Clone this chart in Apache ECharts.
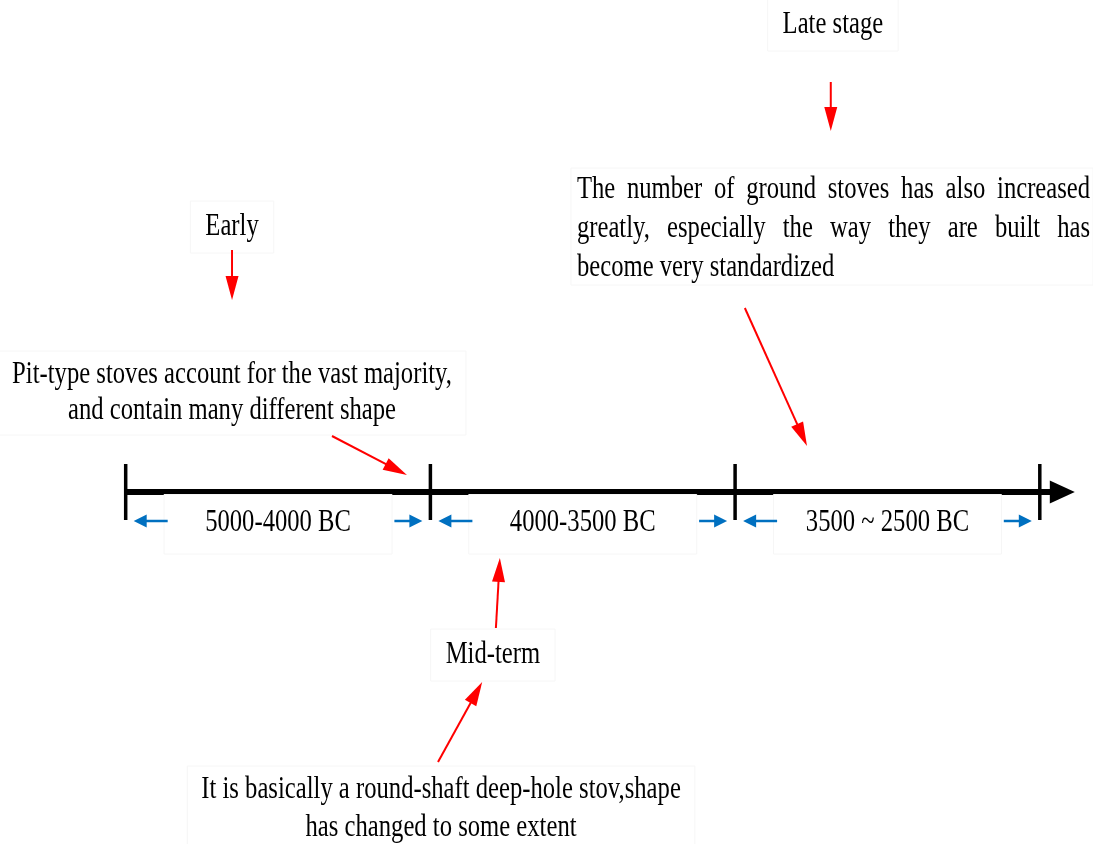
<!DOCTYPE html>
<html><head><meta charset="utf-8">
<script src="https://cdn.jsdelivr.net/npm/echarts@6/dist/echarts.min.js"></script>
<style>html,body{margin:0;padding:0;background:#fff}#c{width:1093px;height:844px}</style>
</head><body><div id="c"></div>
<script>
// ---------------- data ----------------
const boundaries = ['5000 BC', '4000 BC', '3500 BC', '2500 BC'];
const periods = ['5000-4000 BC', '4000-3500 BC', '3500 ~ 2500 BC'];
const stages = ['Early', 'Mid-term', 'Late stage'];
const descEarly = ['Pit-type stoves account for the vast majority,', 'and contain many different shape'];
const descMid = ['It is basically a round-shaft deep-hole stov,shape', 'has changed to some extent'];
const descLate = ['The number of ground stoves has also increased', 'greatly, especially the way they are built has', 'become very standardized'];
const descriptions = [descEarly, descMid, descLate];

// ---------------- styling / layout ----------------
const FONT_SIZE = 31;
const FONT = FONT_SIZE + 'px "Liberation Serif", "Times New Roman", serif';
const SX = 0.795;               // condensed text look
const RED = '#ff0000', BLUE = '#0070c0', BOX = '#f6f6f6';
const AXIS_Y = 492;             // row of the time axis (y axis is rows, top = 0)

// x is in "period" units (0 = first boundary), y is in rows
const stageLayout = [
  { label: [0.349, 227], labelArrow: [[0.349, 250], [0.349, 300]],
    desc: { x: 0.349, ys: [375, 411], align: 'center' }, descArrow: [[0.677, 436], [0.923, 475]] },
  { label: [1.205, 655], labelArrow: [[1.215, 628], [1.228, 558]],
    desc: { x: 1.035, ys: [790, 828], align: 'center' }, descArrow: [[1.025, 762], [1.170, 682]] },
  { label: [2.321, 25], labelArrow: [[2.314, 82], [2.314, 131]],
    desc: { x: 1.481, x2: 3.165, ys: [190, 229, 268], align: 'justify' }, descArrow: [[2.032, 308], [2.236, 446]] }
];

const mctx = document.createElement('canvas').getContext('2d');
mctx.font = FONT;
function tw(s) { return mctx.measureText(s).width * SX; }

function textEl(x, y, str, align, extra) {
  return Object.assign({
    type: 'text', x: x, y: y, scaleX: SX, silent: true,
    style: { text: str, x: 0, y: 0, font: FONT, fill: '#000', align: align || 'center', verticalAlign: 'middle' }
  }, extra || {});
}
function arrowEls(p0, p1, color, lw, hl, hw) {
  const dx = p1[0] - p0[0], dy = p1[1] - p0[1], L = Math.hypot(dx, dy);
  const ux = dx / L, uy = dy / L, nx = -uy, ny = ux;
  const bx = p1[0] - ux * hl, by = p1[1] - uy * hl;
  return [
    { type: 'line', silent: true, shape: { x1: p0[0], y1: p0[1], x2: bx + ux * 2, y2: by + uy * 2 },
      style: { stroke: color, lineWidth: lw } },
    { type: 'polygon', silent: true, shape: { points: [[p1[0], p1[1]], [bx + nx * hw / 2, by + ny * hw / 2], [bx - nx * hw / 2, by - ny * hw / 2]] },
      style: { fill: color } }
  ];
}
function boxEl(x0, y0, x1, y1, fill) {
  return { type: 'rect', silent: true, shape: { x: x0, y: y0, width: x1 - x0, height: y1 - y0 },
    style: { fill: fill || 'none', stroke: BOX, lineWidth: 1 } };
}

const chart = echarts.init(document.getElementById('c'), null, { renderer: 'canvas' });

const option = {
  animation: false,
  backgroundColor: '#fff',
  grid: { left: 0, right: 0, top: 0, bottom: 0 },
  xAxis: { type: 'value', min: -0.4125, max: 3.1746, show: false },
  yAxis: { type: 'value', min: 0, max: 844, inverse: true, show: false },
  series: [
    // time axis with boundary ticks
    {
      type: 'custom', coordinateSystem: 'cartesian2d', z: 2,
      data: boundaries.map((b, i) => [i, AXIS_Y, b]),
      renderItem: function (params, api) {
        const i = api.value(0);
        const p = api.coord([i, api.value(1)]);
        const children = [];
        if (i === 0) {
          const pe = api.coord([boundaries.length - 1, api.value(1)]);
          children.push({ type: 'line', silent: true, shape: { x1: p[0], y1: p[1], x2: pe[0] + 14, y2: p[1] },
            style: { stroke: '#000', lineWidth: 6 } });
        }
        if (i === boundaries.length - 1) {
          children.push({ type: 'polygon', silent: true,
            shape: { points: [[p[0] + 10, p[1] - 11.5], [p[0] + 35, p[1]], [p[0] + 10, p[1] + 11.5]] },
            style: { fill: '#000' } });
        }
        children.push({ type: 'line', silent: true, shape: { x1: p[0], y1: p[1] - 28, x2: p[0], y2: p[1] + 28 },
          style: { stroke: '#000', lineWidth: 3.5 } });
        return { type: 'group', children: children };
      }
    },
    // period labels with blue span arrows
    {
      type: 'custom', coordinateSystem: 'cartesian2d', z: 3,
      data: periods.map((p, i) => [i, AXIS_Y, p]),
      renderItem: function (params, api) {
        const i = api.value(0);
        const a = api.coord([i, api.value(1)]), b = api.coord([i + 1, api.value(1)]);
        const mid = (a[0] + b[0]) / 2, y = a[1];
        const label = periods[i];
        const children = [boxEl(mid - 114, y + 2.5, mid + 114, y + 62, '#fff')];
        children.push(textEl(mid, y + 31, label, 'center'));
        children.push.apply(children, arrowEls([a[0] + 42, y + 29], [a[0] + 8, y + 29], BLUE, 2.5, 13, 13));
        children.push.apply(children, arrowEls([b[0] - 36, y + 29], [b[0] - 8, y + 29], BLUE, 2.5, 13, 13));
        return { type: 'group', children: children };
      }
    },
    // stage labels, descriptions and red pointers
    {
      type: 'custom', coordinateSystem: 'cartesian2d', z: 4,
      data: stages.map((s, i) => [stageLayout[i].label[0], stageLayout[i].label[1], s]),
      renderItem: function (params, api) {
        const i = params.dataIndex;
        const L = stageLayout[i];
        const c = (pt) => api.coord(pt);
        const children = [];
        // stage label with faint box
        const lp = c([api.value(0), api.value(1)]);
        const lw = tw(stages[i]);
        children.push(boxEl(lp[0] - lw / 2 - 15, lp[1] - 26, lp[0] + lw / 2 + 15, lp[1] + 26));
        children.push(textEl(lp[0], lp[1], stages[i], 'center'));
        children.push.apply(children, arrowEls(c(L.labelArrow[0]), c(L.labelArrow[1]), RED, 2, 24, 13));
        // description
        const lines = descriptions[i];
        const d = L.desc;
        if (d.align === 'justify') {
          const left = c([d.x, 0])[0], right = c([d.x2, 0])[0];
          const yTop = c([0, d.ys[0]])[1], yBot = c([0, d.ys[d.ys.length - 1]])[1];
          children.push(boxEl(left - 6, yTop - 22, right + 3, yBot + 17));
          lines.forEach((ln, k) => {
            const y = c([0, d.ys[k]])[1];
            if (k === lines.length - 1) {
              children.push(textEl(left, y, ln, 'left'));
            } else {
              const words = ln.split(' ');
              const ws = words.map(tw);
              const sum = ws.reduce((s, v) => s + v, 0);
              const gap = (right - left - sum) / (words.length - 1);
              let x = left;
              words.forEach((w, j) => { children.push(textEl(x, y, w, 'left')); x += ws[j] + gap; });
            }
          });
        } else {
          const cx = c([d.x, 0])[0];
          const maxW = Math.max.apply(null, lines.map(tw));
          const yTop = c([0, d.ys[0]])[1], yBot = c([0, d.ys[d.ys.length - 1]])[1];
          children.push(boxEl(cx - maxW / 2 - 14, yTop - 24, cx + maxW / 2 + 14, yBot + 24));
          lines.forEach((ln, k) => children.push(textEl(cx, c([0, d.ys[k]])[1], ln, 'center')));
        }
        children.push.apply(children, arrowEls(c(L.descArrow[0]), c(L.descArrow[1]), RED, 2, 24, 13));
        return { type: 'group', children: children };
      }
    }
  ]
};
chart.setOption(option);
</script>
</body></html>
